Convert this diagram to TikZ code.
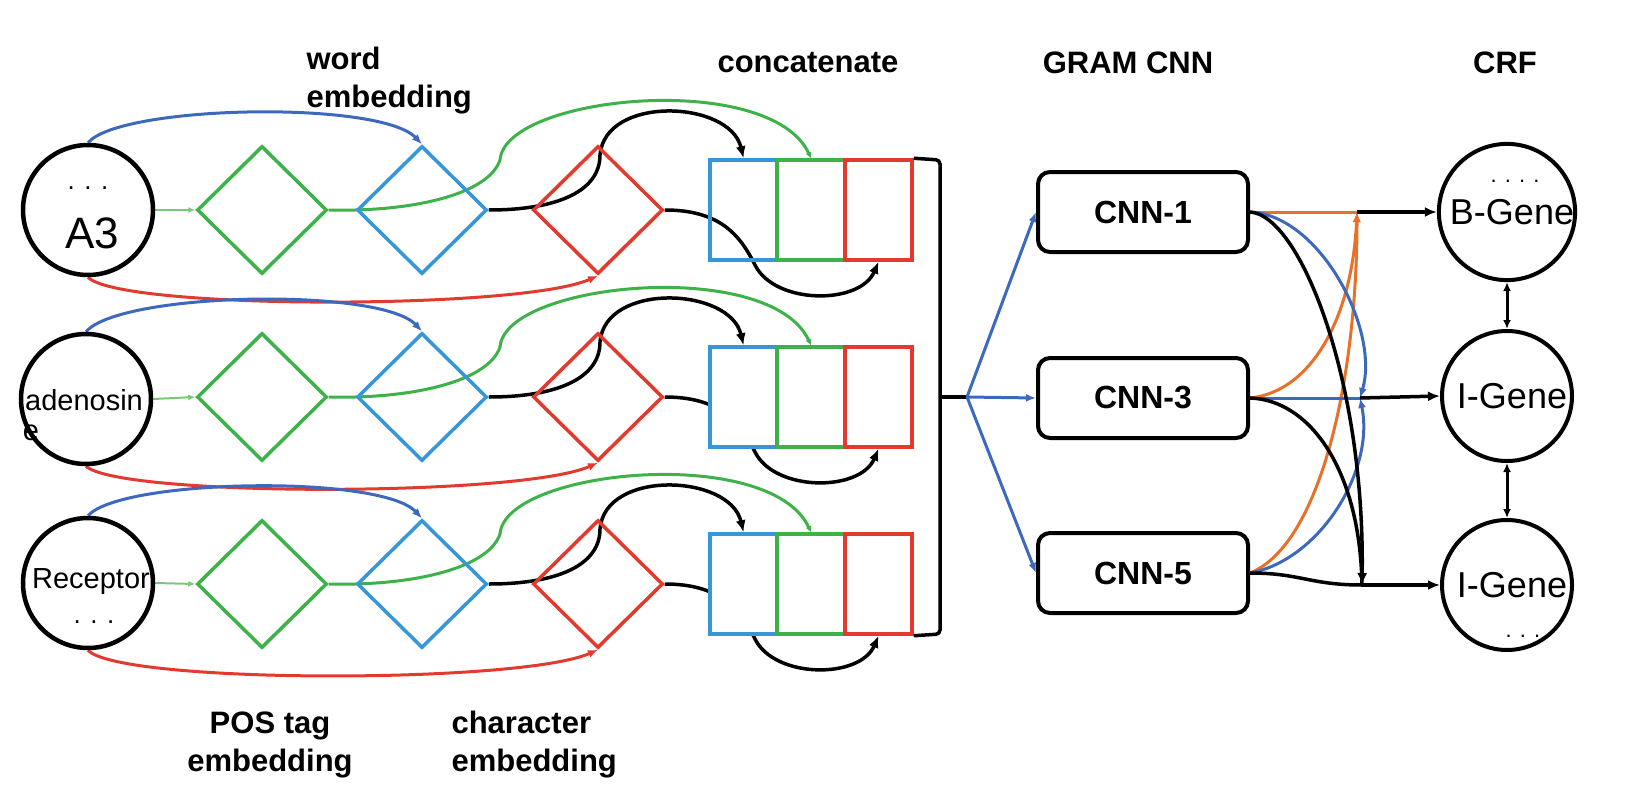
\documentclass[tikz,border=0pt]{standalone}
\usepackage{fontspec}
\setmainfont{Liberation Sans}
\usepackage{xcolor}
\usetikzlibrary{arrows.meta,shapes.geometric,backgrounds}

\definecolor{wblue}{RGB}{60,105,190}
\definecolor{sblue}{RGB}{55,150,215}
\definecolor{pgreen}{RGB}{60,178,72}
\definecolor{lgreen}{RGB}{120,200,120}
\definecolor{cred}{RGB}{226,58,47}
\definecolor{corange}{RGB}{232,112,40}

\begin{document}
\begin{tikzpicture}[x=1pt, y=-1pt,
    wordc/.style={circle, draw, line width=4.5pt, minimum size=130pt, inner sep=0pt},
    wtext/.style={font=\fontsize{29}{29}\selectfont, inner sep=0pt},
    dots/.style={font=\fontsize{26}{26}\selectfont, inner sep=0pt},
    dia/.style={diamond, draw=#1, line width=3.5pt, minimum width=130pt, minimum height=128pt, inner sep=0pt},
    cbox/.style={rectangle, draw=#1, line width=3.5pt, minimum width=67pt, minimum height=100pt, inner sep=0pt},
    cnn/.style={rectangle, rounded corners=12pt, draw, line width=4pt, minimum width=210pt, minimum height=80pt, font=\fontsize{32}{32}\selectfont\bfseries},
    crf/.style={circle, draw, line width=4pt, minimum size=130pt, inner sep=0pt, font=\fontsize{36}{36}\selectfont},
    lbl/.style={font=\fontsize{31}{38}\selectfont\bfseries, align=left},
    arr/.style={line width=3.5pt, -{Latex[length=12pt,width=10pt]}},
    carr/.style={line width=3pt, -{Latex[length=10pt,width=8pt]}}]

        \useasboundingbox (0,0) rectangle (1628,800);

        % Column labels
        \node[lbl, anchor=west] (lword) at (303,81) {word\\embedding};
        \node[lbl] (lcat) at (808,63) {concatenate};
        \node[lbl] (lgram) at (1128,63) {GRAM CNN};
        \node[lbl] (lcrf) at (1505,63) {CRF};
        \node[lbl, align=center] (lpos) at (270,745) {POS tag\\embedding};
        \node[lbl, anchor=west] (lchar) at (448,745) {character\\embedding};

        % Input words
        \node[wordc] (w1) at (88,210) {};
        \node[dots] (w1d) at (88,188) {. . .};
        \node[wtext, font=\fontsize{44}{44}\selectfont] (w1t) at (92,233) {A3};
        \node[wordc] (w2) at (86,399) {};
        \node[wtext] (w2t) at (84,400) {adenosin};
        \node[wtext] (w2e) at (31,433) {e};
        \node[wordc] (w3) at (88,583) {};
        \node[wtext] (w3t) at (91,582) {Receptor};
        \node[dots] (w3d) at (94,622) {. . .};

        % Embeddings and concatenation, one row per word
        \foreach \i/\y/\fillc in {1/210/none,2/397/white,3/584/white} {
            \node[dia=pgreen] (pos\i) at (262,\y) {};
            \node[dia=sblue] (we\i) at (422,\y) {};
            \node[dia=cred] (ch\i) at (598,\y) {};
            \node[cbox=sblue, fill=\fillc] (cb\i) at (743.5,\y) {};
            \node[cbox=pgreen, fill=\fillc] (cg\i) at (811,\y) {};
            \node[cbox=cred, fill=\fillc] (cr\i) at (878.5,\y) {};
        }

        \begin{pgfonlayer}{background}
        \foreach \i/\y in {1/210,2/397,3/584} {
            % word -> POS tag embedding -> concatenate
            \draw[lgreen, line width=2pt, -{Latex[length=7pt,width=6pt]}] (w\i.east) -- (pos\i.west);
            \draw[pgreen, line width=3pt, -{Latex[length=6pt,width=6pt]}] (pos\i.east) -- (we\i.west)
                .. controls (430,\y-2) and (490,\y-20) .. (500,\y-50)
                .. controls (505,\y-115) and (770,\y-140) .. (cg\i.north);
            % word -> word embedding -> concatenate
            \draw[wblue, carr] (w\i.north) .. controls (120,\y-105) and (380,\y-110) .. (we\i.north);
            \draw[arr] (we\i.east) .. controls (560,\y) and (600,\y-20) .. (600,\y-55)
                .. controls (605,\y-115) and (730,\y-110) .. (cb\i.north);
            % word -> character embedding -> concatenate
            \draw[cred, carr] (w\i.south) .. controls (120,\y+100) and (520,\y+100) .. (ch\i.south);
            \draw[arr] (ch\i.east) .. controls (720,\y) and (740,\y+25) .. (755,\y+55)
                .. controls (775,\y+95) and (860,\y+95) .. (cr\i.south);
        }
        \end{pgfonlayer}

        % Bracket to GRAM CNN
        \coordinate (cat) at (940,397);
        \coordinate (fan) at (967,397);
        \draw[line width=3.5pt, rounded corners=4pt] (cr1.north east) -- (940,160) -- (940,634) -- (cr3.south east);
        \draw[line width=3.5pt] (cat) -- (fan);

        % GRAM CNN
        \node[cnn] (cnn1) at (1143,212) {CNN-1};
        \node[cnn] (cnn3) at (1143,398) {CNN-3};
        \node[cnn] (cnn5) at (1143,573) {CNN-5};
        \foreach \n in {1,3,5}
            \draw[wblue, carr] (fan) -- (cnn\n.west);

        % CRF
        \node[crf] (crf1) at (1507,212) {\hspace{10pt}B-Gene};
        \node[dots, font=\fontsize{22}{22}\selectfont] (crf1d) at (1515,181) {. . . .};
        \node[crf] (crf2) at (1507,396) {\hspace{10pt}I-Gene};
        \node[crf] (crf3) at (1507,585) {\hspace{10pt}I-Gene};
        \node[dots, font=\fontsize{22}{22}\selectfont] (crf3d) at (1523,636) {. . .};
        \draw[line width=3pt, {Latex[length=9pt,width=8pt]}-{Latex[length=9pt,width=8pt]}] (crf1.south) -- (crf2.north);
        \draw[line width=3pt, {Latex[length=9pt,width=8pt]}-{Latex[length=9pt,width=8pt]}] (crf2.south) -- (crf3.north);

        % CNN outputs to CRF
        \coordinate (j1) at (1357,212);
        \coordinate (j2) at (1360,398);
        \coordinate (j3) at (1362,585);
        \draw[corange, line width=3pt] (cnn1.east) -- (j1);
        \draw[corange, carr] (cnn3.east) .. controls (1310,392) and (1352,320) .. (j1);
        \draw[corange, carr] (cnn5.east) .. controls (1320,545) and (1357,380) .. (j1);
        \draw[wblue, line width=3pt] (cnn3.east) -- (j2);
        \draw[wblue, carr] (cnn1.east) .. controls (1320,215) and (1380,330) .. (j2);
        \draw[wblue, carr] (cnn5.east) .. controls (1320,560) and (1375,470) .. (j2);
        \draw[arr] (cnn1.east) .. controls (1300,215) and (1365,380) .. (j3);
        \draw[line width=3.5pt] (cnn3.east) .. controls (1310,400) and (1360,470) .. (j3);
        \draw[line width=3.5pt] (cnn5.east) .. controls (1300,573) and (1310,585) .. (j3);
        \draw[arr] (j1) -- (crf1.west);
        \draw[arr] (j2) -- (crf2.west);
        \draw[arr] (j3) -- (crf3.west);

    \end{tikzpicture}
\end{document}
